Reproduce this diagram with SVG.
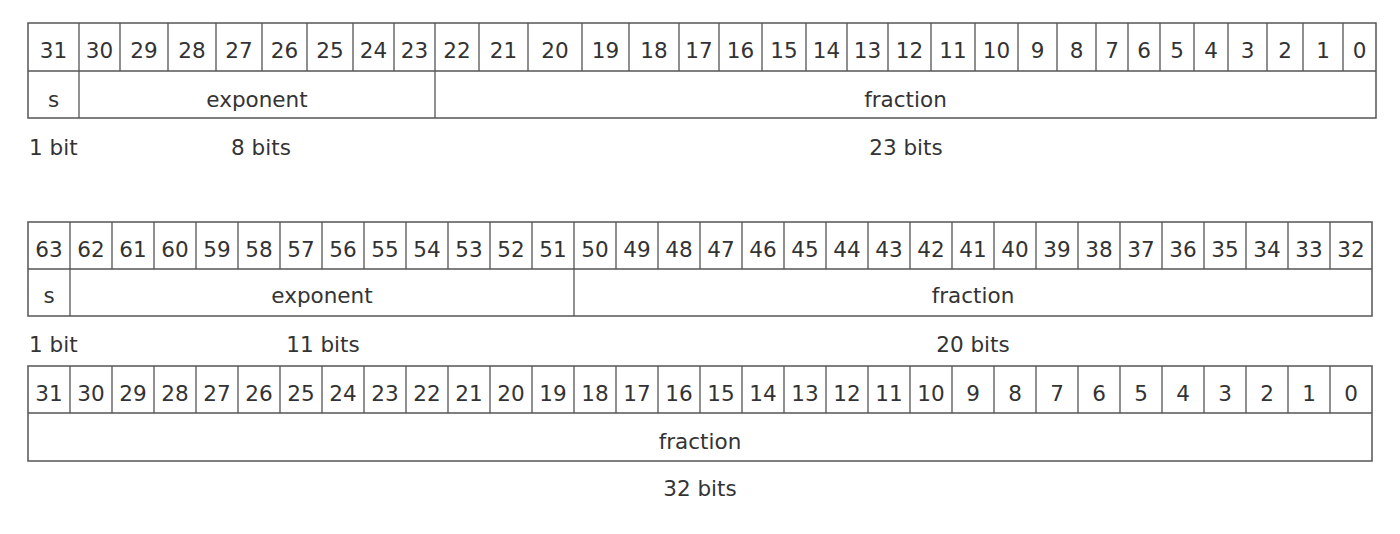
<svg xmlns="http://www.w3.org/2000/svg" width="1400" height="534" viewBox="0 0 1400 534">
<style>
.box{fill:none;stroke:#555;stroke-width:1.5}
.ln{fill:none;stroke:#555;stroke-width:1.3}
text{font-family:"DejaVu Sans","Liberation Sans",sans-serif;font-size:21.5px;fill:#333}
.c{text-anchor:middle}
</style>
<rect width="1400" height="534" fill="#fff"/>

<g id="single-precision">
  <g id="sp-bits">
    <path class="ln" d="M28,71H1376 M79,23V71 M120,23V71 M168,23V71 M216,23V71 M262,23V71 M307,23V71 M353,23V71 M394,23V71 M435,23V71 M479,23V71 M528,23V71 M582,23V71 M629,23V71 M679,23V71 M719,23V71 M762,23V71 M806,23V71 M847,23V71 M888,23V71 M931,23V71 M975,23V71 M1018,23V71 M1057,23V71 M1096,23V71 M1128,23V71 M1160,23V71 M1194,23V71 M1228,23V71 M1267,23V71 M1303,23V71 M1343,23V71"/>
    <g class="c">
      <text x="53.5" y="57.5">31</text><text x="99.5" y="57.5">30</text><text x="144" y="57.5">29</text><text x="192" y="57.5">28</text>
      <text x="239" y="57.5">27</text><text x="284.5" y="57.5">26</text><text x="330" y="57.5">25</text><text x="373.5" y="57.5">24</text>
      <text x="414.5" y="57.5">23</text><text x="457" y="57.5">22</text><text x="503.5" y="57.5">21</text><text x="555" y="57.5">20</text>
      <text x="605.5" y="57.5">19</text><text x="654" y="57.5">18</text><text x="699" y="57.5">17</text><text x="740.5" y="57.5">16</text>
      <text x="784" y="57.5">15</text><text x="826.5" y="57.5">14</text><text x="867.5" y="57.5">13</text><text x="909.5" y="57.5">12</text>
      <text x="953" y="57.5">11</text><text x="996.5" y="57.5">10</text><text x="1037.5" y="57.5">9</text><text x="1076.5" y="57.5">8</text>
      <text x="1112" y="57.5">7</text><text x="1144" y="57.5">6</text><text x="1177" y="57.5">5</text><text x="1211" y="57.5">4</text>
      <text x="1247.5" y="57.5">3</text><text x="1285" y="57.5">2</text><text x="1323" y="57.5">1</text><text x="1359.5" y="57.5">0</text>
    </g>
  </g>
  <g id="sp-sign">
    <path class="ln" d="M79,71V118"/>
    <text class="c" x="53.5" y="106.5">s</text>
    <text x="29" y="155">1 bit</text>
  </g>
  <g id="sp-exponent">
    <path class="ln" d="M435,71V118"/>
    <text class="c" x="257" y="106.5">exponent</text>
    <text class="c" x="261" y="155">8 bits</text>
  </g>
  <g id="sp-fraction">
    <text class="c" x="905.5" y="106.5">fraction</text>
    <text class="c" x="906" y="155">23 bits</text>
  </g>
  <rect class="box" x="28" y="23" width="1348" height="95"/>
</g>

<g id="double-precision-high">
  <g id="dp-bits">
    <path class="ln" d="M28,269H1372 M70,222V269 M112,222V269 M154,222V269 M196,222V269 M238,222V269 M280,222V269 M322,222V269 M364,222V269 M406,222V269 M448,222V269 M490,222V269 M532,222V269 M574,222V269 M616,222V269 M658,222V269 M700,222V269 M742,222V269 M784,222V269 M826,222V269 M868,222V269 M910,222V269 M952,222V269 M994,222V269 M1036,222V269 M1078,222V269 M1120,222V269 M1162,222V269 M1204,222V269 M1246,222V269 M1288,222V269 M1330,222V269"/>
    <g class="c">
      <text x="49" y="256.5">63</text><text x="91" y="256.5">62</text><text x="133" y="256.5">61</text><text x="175" y="256.5">60</text>
      <text x="217" y="256.5">59</text><text x="259" y="256.5">58</text><text x="301" y="256.5">57</text><text x="343" y="256.5">56</text>
      <text x="385" y="256.5">55</text><text x="427" y="256.5">54</text><text x="469" y="256.5">53</text><text x="511" y="256.5">52</text>
      <text x="553" y="256.5">51</text><text x="595" y="256.5">50</text><text x="637" y="256.5">49</text><text x="679" y="256.5">48</text>
      <text x="721" y="256.5">47</text><text x="763" y="256.5">46</text><text x="805" y="256.5">45</text><text x="847" y="256.5">44</text>
      <text x="889" y="256.5">43</text><text x="931" y="256.5">42</text><text x="973" y="256.5">41</text><text x="1015" y="256.5">40</text>
      <text x="1057" y="256.5">39</text><text x="1099" y="256.5">38</text><text x="1141" y="256.5">37</text><text x="1183" y="256.5">36</text>
      <text x="1225" y="256.5">35</text><text x="1267" y="256.5">34</text><text x="1309" y="256.5">33</text><text x="1351" y="256.5">32</text>
    </g>
  </g>
  <g id="dp-sign">
    <path class="ln" d="M70,269V316"/>
    <text class="c" x="49" y="302.5">s</text>
    <text x="29" y="352">1 bit</text>
  </g>
  <g id="dp-exponent">
    <path class="ln" d="M574,269V316"/>
    <text class="c" x="322" y="302.5">exponent</text>
    <text class="c" x="323" y="352">11 bits</text>
  </g>
  <g id="dp-fraction-high">
    <text class="c" x="973" y="302.5">fraction</text>
    <text class="c" x="973" y="352">20 bits</text>
  </g>
  <rect class="box" x="28" y="222" width="1344" height="94"/>
</g>

<g id="double-precision-low">
  <g id="dpl-bits">
    <path class="ln" d="M28,413H1372 M70,366V413 M112,366V413 M154,366V413 M196,366V413 M238,366V413 M280,366V413 M322,366V413 M364,366V413 M406,366V413 M448,366V413 M490,366V413 M532,366V413 M574,366V413 M616,366V413 M658,366V413 M700,366V413 M742,366V413 M784,366V413 M826,366V413 M868,366V413 M910,366V413 M952,366V413 M994,366V413 M1036,366V413 M1078,366V413 M1120,366V413 M1162,366V413 M1204,366V413 M1246,366V413 M1288,366V413 M1330,366V413"/>
    <g class="c">
      <text x="49" y="400.5">31</text><text x="91" y="400.5">30</text><text x="133" y="400.5">29</text><text x="175" y="400.5">28</text>
      <text x="217" y="400.5">27</text><text x="259" y="400.5">26</text><text x="301" y="400.5">25</text><text x="343" y="400.5">24</text>
      <text x="385" y="400.5">23</text><text x="427" y="400.5">22</text><text x="469" y="400.5">21</text><text x="511" y="400.5">20</text>
      <text x="553" y="400.5">19</text><text x="595" y="400.5">18</text><text x="637" y="400.5">17</text><text x="679" y="400.5">16</text>
      <text x="721" y="400.5">15</text><text x="763" y="400.5">14</text><text x="805" y="400.5">13</text><text x="847" y="400.5">12</text>
      <text x="889" y="400.5">11</text><text x="931" y="400.5">10</text><text x="973" y="400.5">9</text><text x="1015" y="400.5">8</text>
      <text x="1057" y="400.5">7</text><text x="1099" y="400.5">6</text><text x="1141" y="400.5">5</text><text x="1183" y="400.5">4</text>
      <text x="1225" y="400.5">3</text><text x="1267" y="400.5">2</text><text x="1309" y="400.5">1</text><text x="1351" y="400.5">0</text>
    </g>
  </g>
  <g id="dpl-fraction">
    <text class="c" x="700" y="448.5">fraction</text>
    <text class="c" x="700" y="496">32 bits</text>
  </g>
  <rect class="box" x="28" y="366" width="1344" height="95"/>
</g>
</svg>
